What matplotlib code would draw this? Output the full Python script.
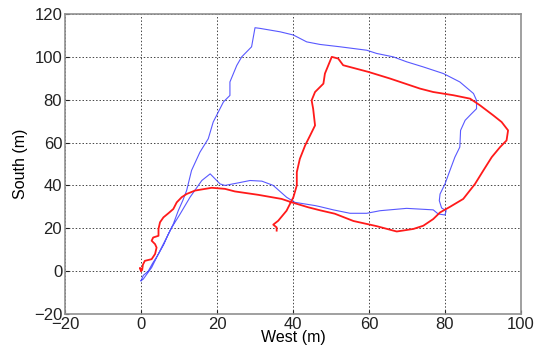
import matplotlib
matplotlib.use("Agg")
import matplotlib.pyplot as plt

blue_x = [0, 0.6, 1.9, 3, 4.6, 6, 7.2, 8.5, 9.8, 11, 12, 13.3, 15.5, 17.7, 19, 21.7, 23.4, 23.4, 25.2,
          26.5, 29.1, 30, 31.3, 36.6, 40.1, 43.6, 47.1, 52.4, 59.4, 62, 66.4, 69.9, 74.3, 79.6, 83.9,
          87.5, 88.3, 88.3, 87, 85.3, 84.1, 83.9, 82.6, 81.3, 80, 78.7, 78.5, 79.1, 80.3, 80, 78.2,
          76.9, 69.9, 62.9, 59.4, 55, 50.6, 47.1, 45.8, 40.5, 38.3, 34.8, 31.8, 28.7, 25.6, 22.1,
          20.8, 18.2, 16, 12.9, 10.3, 8.1, 5.4, 2.8, 0.6, 0]
blue_y = [-4.5, -2, 0, 3.5, 8, 12.5, 17.3, 22, 28.2, 33, 37.6, 47, 55.5, 61.8, 69.6, 79, 82, 88.3, 96,
          100, 104.7, 113.6, 113.3, 111.7, 110.2, 107, 105.8, 104.7, 103.1, 101.6, 100, 97.7, 95.3,
          92.2, 88.3, 82.9, 79.7, 75.8, 73.5, 70.4, 65.7, 57.9, 53.2, 47, 40.7, 36, 32.9, 29.5, 28.2,
          26.2, 26.7, 28.6, 29.3, 28.2, 27, 27, 28.6, 30.1, 30.6, 32.1, 34.5, 40, 42, 42.3, 41.2, 40,
          40.7, 45.4, 42.3, 34.5, 26.7, 20.4, 11, 1.7, -3.7, -4.5]

red_x = [0, -0.3, 0.3, 0.5, 1, 2.8, 3.7, 4.1, 3.7, 2.8, 3.2, 4.6, 4.6, 5, 5.9, 7.2, 8.5, 9.4, 10.7, 12,
         14.2, 18.6, 22.1, 24.7, 30.9, 37, 39.7, 44, 47.1, 51, 55.9, 62, 67.3, 71.7, 74.3, 76.9, 78.7,
         81.3, 84.8, 87.9, 90.1, 92.3, 94.5, 96.2, 96.6, 94.9, 92.7, 89.2, 86.6, 82.2, 76.9, 73.4,
         65.5, 59.8, 53.2, 51.9, 50.2, 49.3, 48.4, 48, 45.8, 44.9, 45.3, 45.8, 44.5, 43.2, 41.8, 41,
         41, 40.1, 38.3, 36.1, 34.8, 35.7, 35.7]
red_y = [0, 1.5, 0.5, 3, 4.8, 5.6, 8, 11, 12.6, 14.2, 15.7, 16.5, 19.7, 22.8, 25.1, 27, 29, 32.1, 34.5,
         36, 37.6, 38.9, 38.4, 37.2, 35.6, 33.7, 32.1, 29.8, 28.4, 26.8, 23.4, 21, 18.5, 19.7, 21.2,
         24.3, 27.4, 30, 33.7, 40.7, 47, 53.2, 57.9, 61, 65.7, 69.6, 72.7, 77.4, 80.5, 82.1, 83.6,
         85.2, 89.9, 93, 96.1, 99.2, 100, 96.1, 92.2, 87.5, 83.6, 79.7, 75.8, 68, 63.3, 58.7, 52.4,
         46.2, 40, 34.5, 28.2, 23.5, 21.7, 20.4, 18.9]

x_ticks = [-20, 0, 20, 40, 60, 80, 100]
y_ticks = [-20, 0, 20, 40, 60, 80, 100, 120]

plt.rcParams['font.family'] = ['Liberation Sans', 'DejaVu Sans']

fig = plt.figure(figsize=(5.36, 3.46), dpi=100)
ax = fig.add_axes([0.1213, 0.0925, 0.8507, 0.867])

ax.plot(blue_x, blue_y, color='#3b3bff', linewidth=0.8, alpha=0.85)
ax.plot(red_x, red_y, color='#ff1a1a', linewidth=1.3)

ax.set_xlim(-20, 100)
ax.set_ylim(-20, 120)
ax.set_xticks(x_ticks)
ax.set_yticks(y_ticks)
ax.grid(True, linestyle=(0, (1.5, 2)), color='#444444', linewidth=0.7)
ax.tick_params(direction='in', length=3, labelsize=12, colors='#222222', pad=2)
for s in ax.spines.values():
    s.set_color('#909090')
    s.set_linewidth(1.2)
ax.set_xlabel('West (m)', fontsize=11.5, labelpad=-1)
ax.set_ylabel('South (m)', fontsize=11.5, labelpad=4)

fig.savefig('out.png', dpi=100)
